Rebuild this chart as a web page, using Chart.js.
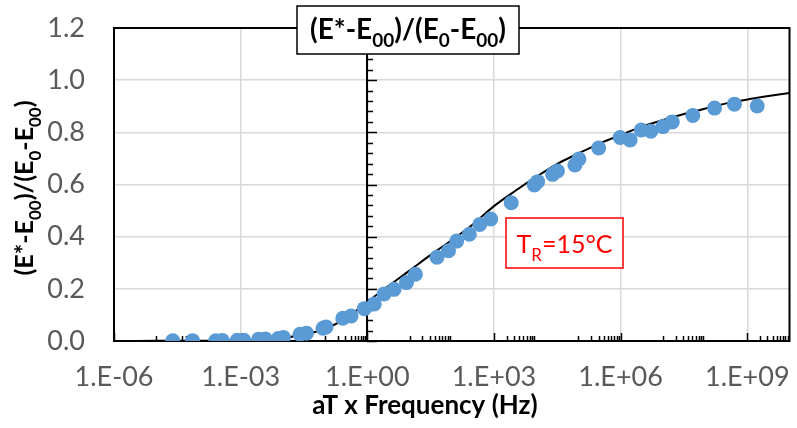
<!DOCTYPE html>
<html>
<head>
<meta charset="utf-8">
<script src="https://cdn.jsdelivr.net/npm/chart.js@4.4.0/dist/chart.umd.min.js"></script>
<style>
  html, body { margin: 0; padding: 0; background: #fff; }
  #chart { display: block; }
</style>
</head>
<body>
<canvas id="chart" width="797" height="428"></canvas>
<script>
// measured points: reduced frequency (Hz) and normalised modulus
const freq = [
  2.46e-5, 7.26e-5, 2.57e-4, 3.67e-4, 8.26e-4, 1.19e-3, 2.67e-3, 3.83e-3,
  7.85e-3, 1.03e-2, 2.54e-2, 3.62e-2, 8.93e-2, 0.105, 0.263, 0.412,
  0.849, 1.46, 2.50, 4.30, 8.49, 13.8, 44.6, 83.8,
  131, 261, 462, 838, 2560, 9020, 10800, 24400,
  31900, 82600, 1.03e5, 3.02e5, 9.77e5, 1.68e6, 3.08e6, 5.21e6,
  1.01e7, 1.67e7, 5.13e7, 1.68e8, 4.96e8, 1.72e9
];
const ratio = [
  0.001, 0.001, 0.001, 0.002, 0.003, 0.003, 0.007, 0.008,
  0.010, 0.013, 0.026, 0.030, 0.049, 0.054, 0.087, 0.096,
  0.124, 0.142, 0.180, 0.198, 0.224, 0.256, 0.321, 0.346,
  0.383, 0.409, 0.447, 0.468, 0.530, 0.598, 0.611, 0.639,
  0.652, 0.675, 0.698, 0.740, 0.780, 0.771, 0.809, 0.804,
  0.822, 0.840, 0.865, 0.893, 0.908, 0.901
];

// fitted master curve
const fitFreq = [
  1e-6, 1e-5, 1e-4, 1e-3, 3.16e-3, 1e-2, 3.16e-2, 1e-1, 3.16e-1,
  1, 3.16, 10, 31.6, 100, 316, 1e3, 3.16e3, 1e4, 3.16e4,
  1e5, 3.16e5, 1e6, 3.16e6, 1e7, 3.16e7, 1e8, 3.16e8, 1e9, 3.16e9, 1e10
];
const fitRatio = [
  0.000, 0.0005, 0.001, 0.003, 0.006, 0.012, 0.024, 0.047, 0.088,
  0.150, 0.211, 0.270, 0.330, 0.387, 0.447, 0.517, 0.575, 0.629, 0.679,
  0.719, 0.757, 0.790, 0.821, 0.847, 0.870, 0.891, 0.911, 0.926, 0.939, 0.951
];

const xTicks = [1e-6, 1e-3, 1e0, 1e3, 1e6, 1e9];
const xMinorDecades = [-5, -3, -1, 1, 3, 5, 7, 9];
const xMinorFactors = [1, 2, 3, 4, 5, 6, 7, 8, 9];
const yMinorStep = 0.04;

const FONT = 'Lato, "Open Sans", sans-serif';

function sciLabel(v) {
  const e = Math.round(Math.log10(v));
  const sign = e < 0 ? '-' : '+';
  return '1.E' + sign + String(Math.abs(e)).padStart(2, '0');
}

// draws text made of [string, isSubscript] parts, centred on x
function drawParts(ctx, parts, x, y, size, weight, color) {
  const sub = Math.round(size * 0.68);
  let total = 0;
  parts.forEach(([t, s]) => {
    ctx.font = weight + ' ' + (s ? sub : size) + 'px ' + FONT;
    total += ctx.measureText(t).width;
  });
  let cx = x - total / 2;
  ctx.fillStyle = color;
  ctx.textAlign = 'left';
  ctx.textBaseline = 'alphabetic';
  parts.forEach(([t, s]) => {
    ctx.font = weight + ' ' + (s ? sub : size) + 'px ' + FONT;
    ctx.fillText(t, cx, s ? y + size * 0.3 : y);
    cx += ctx.measureText(t).width;
  });
  return total;
}

const ratioParts = [['(E*-E', false], ['00', true], [')/(E', false], ['0', true], ['-E', false], ['00', true], [')', false]];

const axesPlugin = {
  id: 'axesPlugin',
  beforeDatasetsDraw(chart) {
    const { ctx, chartArea: a, scales: { x, y } } = chart;
    ctx.save();
    ctx.strokeStyle = '#000';
    ctx.lineWidth = 2;
    ctx.strokeRect(a.left, a.top, a.right - a.left, a.bottom - a.top);

    // vertical axis crossing at 1 Hz
    const x0 = Math.round(x.getPixelForValue(1));
    ctx.beginPath();
    ctx.moveTo(x0, a.top);
    ctx.lineTo(x0, a.bottom);
    ctx.stroke();

    ctx.lineWidth = 1.5;
    ctx.beginPath();
    for (let i = 0; i * yMinorStep <= y.max + 1e-9; i++) {
      const py = Math.round(y.getPixelForValue(i * yMinorStep)) + 0.5;
      const len = i % 5 === 0 ? 10 : 6;
      ctx.moveTo(x0, py);
      ctx.lineTo(x0 + len, py);
    }
    // x ticks pointing up from the bottom axis
    xTicks.forEach(v => {
      const px = Math.round(x.getPixelForValue(v)) + 0.5;
      ctx.moveTo(px, a.bottom);
      ctx.lineTo(px, a.bottom - 8);
    });
    xMinorDecades.forEach(d => {
      xMinorFactors.forEach(k => {
        const v = k * Math.pow(10, d);
        if (v >= x.max) return;
        const px = Math.round(x.getPixelForValue(v)) + 0.5;
        ctx.moveTo(px, a.bottom);
        ctx.lineTo(px, a.bottom - 5);
      });
    });
    ctx.stroke();
    ctx.restore();
  },
  afterDraw(chart) {
    const { ctx } = chart;
    ctx.save();

    // boxed title
    ctx.fillStyle = '#fff';
    ctx.fillRect(297, 6, 222, 48);
    ctx.strokeStyle = '#000';
    ctx.lineWidth = 1.5;
    ctx.strokeRect(297, 6, 222, 48);
    drawParts(ctx, ratioParts, 408, 39, 28, 'bold', '#000');

    // y axis title
    ctx.save();
    ctx.translate(33, 188);
    ctx.rotate(-Math.PI / 2);
    drawParts(ctx, ratioParts, 0, 0, 25, 'bold', '#000');
    ctx.restore();

    // x axis title
    ctx.font = 'bold 26px ' + FONT;
    ctx.fillStyle = '#000';
    ctx.textAlign = 'center';
    ctx.textBaseline = 'alphabetic';
    ctx.fillText('aT x Frequency (Hz)', 425, 414);

    // reference temperature label
    ctx.fillStyle = '#fff';
    ctx.fillRect(506, 218, 117, 50);
    ctx.strokeStyle = '#ff0000';
    ctx.lineWidth = 1.5;
    ctx.strokeRect(506, 218, 117, 50);
    drawParts(ctx, [['T', false], ['R', true], ['=15°C', false]], 564.5, 253, 25, 'normal', '#ff0000');

    ctx.restore();
  }
};

new Chart(document.getElementById('chart'), {
  type: 'scatter',
  data: {
    datasets: [
      {
        label: 'Measured',
        data: freq.map((f, i) => ({ x: f, y: ratio[i] })),
        backgroundColor: '#5b9bd5',
        borderWidth: 0,
        pointRadius: 7.5,
        showLine: false
      },
      {
        label: 'Model',
        type: 'line',
        data: fitFreq.map((f, i) => ({ x: f, y: fitRatio[i] })),
        borderColor: '#000',
        borderWidth: 2,
        pointRadius: 0,
        fill: false,
        cubicInterpolationMode: 'monotone'
      }
    ]
  },
  options: {
    responsive: false,
    animation: false,
    devicePixelRatio: 1,
    layout: { padding: { top: 28, right: 1, left: 0, bottom: 0 } },
    plugins: {
      legend: { display: false },
      tooltip: { enabled: false }
    },
    scales: {
      x: {
        type: 'logarithmic',
        min: 1e-6,
        max: 1e10,
        afterBuildTicks: s => { s.ticks = xTicks.map(v => ({ value: v })); },
        afterFit: s => {
          s.height = 87;
          s.paddingLeft = 0;
          s.paddingRight = 0;
        },
        border: { display: false },
        grid: { color: '#d9d9d9', lineWidth: 1.5, drawTicks: false },
        ticks: {
          autoSkip: false,
          maxRotation: 0,
          padding: 20,
          color: '#595959',
          font: { family: FONT, size: 27 },
          callback: v => sciLabel(v)
        }
      },
      y: {
        min: 0,
        max: 1.2,
        afterFit: s => {
          s.width = 114;
          s.paddingTop = 0;
          s.paddingBottom = 0;
        },
        border: { display: false },
        grid: { color: '#d9d9d9', lineWidth: 1.5, drawTicks: false },
        ticks: {
          stepSize: 0.2,
          padding: 29,
          color: '#595959',
          font: { family: FONT, size: 27 },
          callback: v => v.toFixed(1)
        }
      }
    }
  },
  plugins: [axesPlugin]
});
</script>
</body>
</html>
